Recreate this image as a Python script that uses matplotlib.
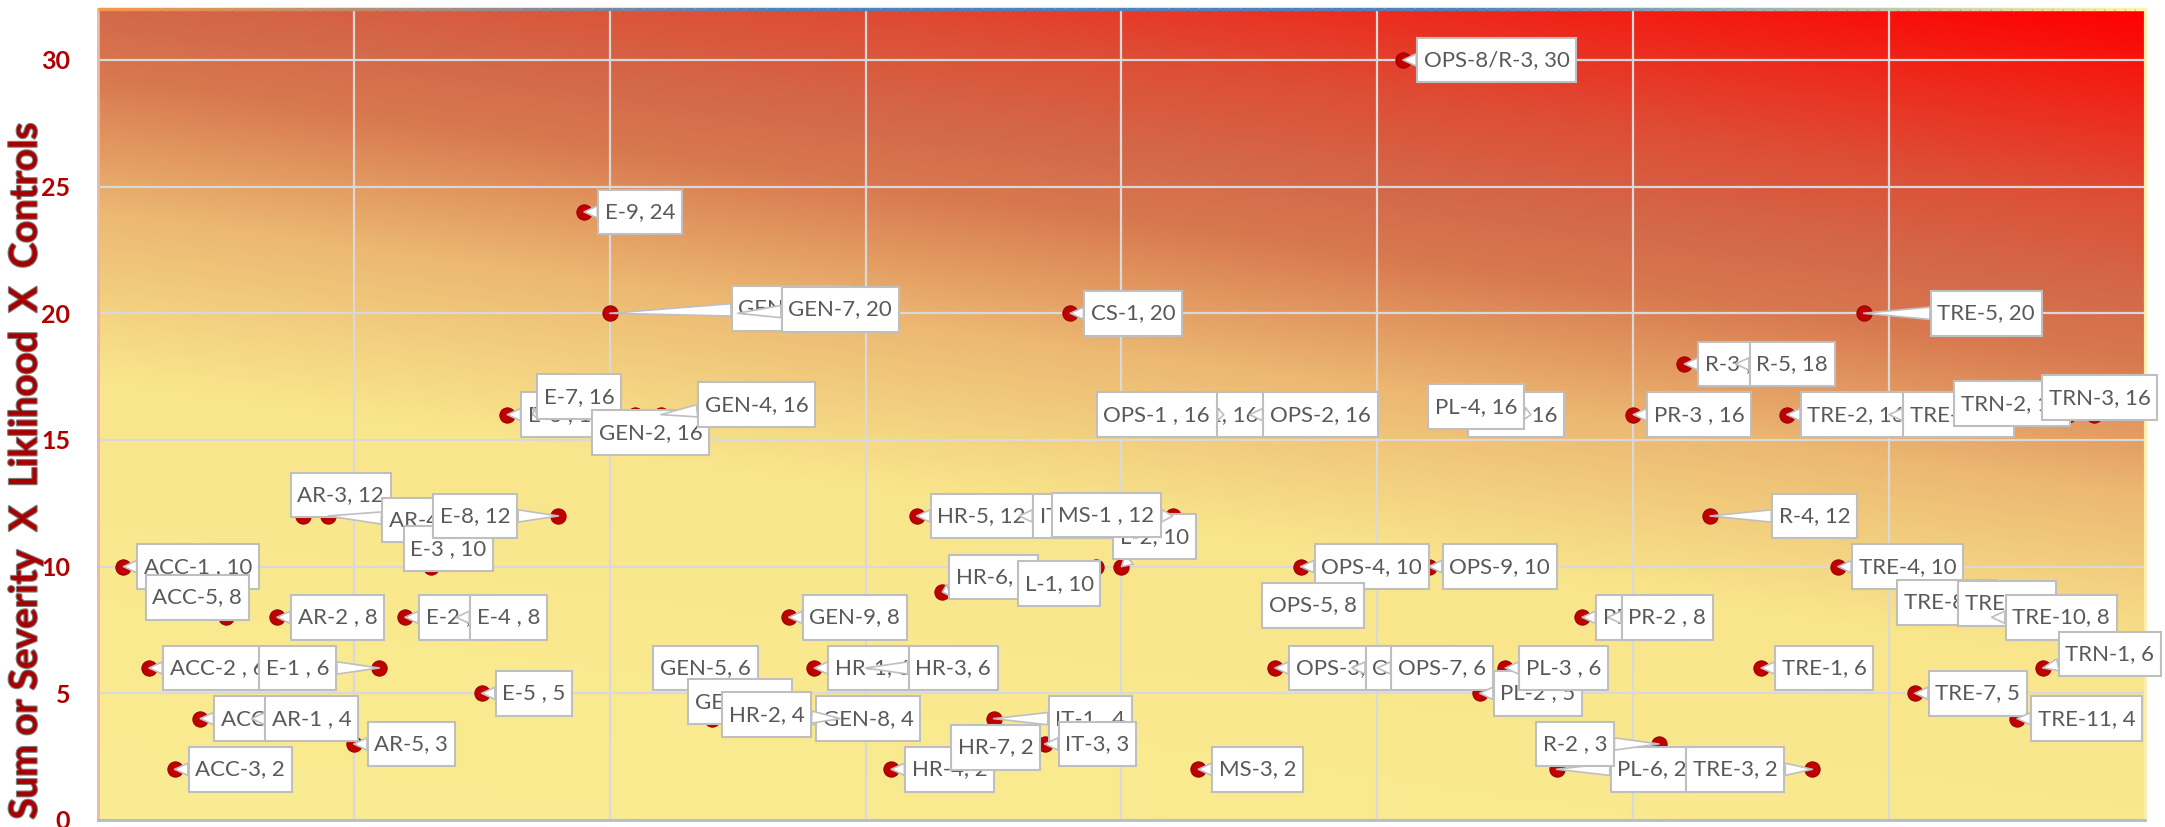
import numpy as np
import matplotlib.pyplot as plt
import matplotlib.patheffects as pe
from matplotlib.colors import LinearSegmentedColormap
from matplotlib.collections import LineCollection
from matplotlib.path import Path

plt.rcParams['font.family'] = ['Lato', 'DejaVu Sans']

# risk items in register order (x = position in the register)
names = ['ACC-1 ', 'ACC-2 ', 'ACC-3', 'ACC-4 ', 'ACC-5',
         'AR-1 ', 'AR-2 ', 'AR-3', 'AR-4', 'AR-5',
         'E-1 ', 'E-2 ', 'E-3 ', 'E-4 ', 'E-5 ', 'E-6 ', 'E-7', 'E-8', 'E-9',
         'GEN-1', 'GEN-2', 'GEN-4', 'GEN-5', 'GEN-6', 'GEN-7', 'GEN-8', 'GEN-9',
         'HR-1', 'HR-2', 'HR-3', 'HR-4', 'HR-5', 'HR-6', 'HR-7',
         'IT-1 ', 'IT-2', 'IT-3', 'CS-1', 'L-1', 'L-2',
         'MS-2', 'MS-1 ', 'MS-3',
         'OPS-1 ', 'OPS-2', 'OPS-3', 'OPS-4', 'OPS-5', 'OPS-6', 'OPS-7', 'OPS-8/R-3', 'OPS-9',
         'PL-1', 'PL-2 ', 'PL-3 ', 'PL-4', 'PL-6',
         'PR-1', 'PR-2 ', 'PR-3 ',
         'R-2 ', 'R-3 ', 'R-4', 'R-5',
         'TRE-1', 'TRE-2', 'TRE-3', 'TRE-4', 'TRE-5', 'TRE-6', 'TRE-7', 'TRE-8', 'TRE-9',
         'TRE-10', 'TRE-11', 'TRN-1', 'TRN-2', 'TRN-3']
scores = [10, 6, 2, 4, 8,
          4, 8, 12, 12, 3,
          6, 8, 10, 8, 5, 16, 16, 12, 24,
          20, 16, 16, 6, 4, 20, 4, 8,
          6, 4, 6, 2, 12, 9, 2,
          4, 12, 3, 20, 10, 10,
          16, 12, 2,
          16, 16, 6, 10, 8, 6, 6, 30, 10,
          16, 5, 6, 16, 2,
          8, 8, 16,
          3, 18, 12, 18,
          6, 16, 2, 10, 20, 16, 5, 8, 8,
          8, 4, 6, 16, 16]
x = np.arange(1, len(names) + 1)

# where each callout box sits relative to its point (px: box left edge, box centre)
default_offset = (14, 0)
label_offsets = {
    'ACC-5': (-80, 20), 'AR-3': (-12, 21), 'AR-4': (54, -4), 'E-8': (-125, 0),
    'E-3': (-27, 18), 'E-1': (-120, 0), 'E-7': (4, 18),
    'GEN-1': (122, 5), 'GEN-2': (-43, -18), 'GEN-4': (37, 10), 'GEN-5': (-33, 0),
    'GEN-6': (-24, 17), 'GEN-7': (44, 4), 'GEN-8': (53, 0),
    'HR-2': (-118, 4), 'HR-3': (43, 0), 'HR-6': (7, 15), 'HR-7': (-17, 22),
    'IT-1': (55, 0), 'L-1': (-78, -17), 'L-2': (-8, 30), 'MS-1': (-121, 1),
    'OPS-1': (-127, 0), 'OPS-5': (-64, 12), 'PL-4': (-103, 8), 'PL-6': (54, 0),
    'R-2': (-123, 0), 'R-4': (62, 0), 'TRE-3': (-126, 0), 'TRE-5': (67, 0),
    'TRE-8': (-43, 15), 'TRE-9': (-8, 14), 'TRN-1': (16, 14),
    'TRN-2': (-114, 11), 'TRN-3': (-52, 17),
}


def callout_box(x0, y0, width, height, mutation_size):
    # plain rectangle, roomier top/bottom than left/right
    px, py = 0.3 * mutation_size, 0.55 * mutation_size
    return Path([(x0 - px, y0 - py), (x0 + width + px, y0 - py),
                 (x0 + width + px, y0 + height + py), (x0 - px, y0 + height + py),
                 (x0 - px, y0 - py)], closed=True)


fig = plt.figure(figsize=(21.65, 8.27), dpi=100)
ax = fig.add_axes([0.0452, 0.0085, 0.9456, 0.9803])
ax.set_xlim(0, 80)
ax.set_ylim(0, 32)

# yellow -> orange -> red fill running towards the top right corner
u, v = np.meshgrid(np.linspace(0, 1, 800), np.linspace(0, 1, 400))
t = (v + 0.35 * u) / 1.35
heat = LinearSegmentedColormap.from_list('heat', [
    (0.0, '#FAEC92'), (0.40, '#F9E68C'), (0.556, '#ECB872'), (0.68, '#D8784F'),
    (0.74, '#D3694A'), (0.83, '#DE4D35'), (1.0, '#FF0000')])
ax.imshow(t, cmap=heat, extent=[0, 80, 0, 32], origin='lower', aspect='auto',
          interpolation='bilinear', zorder=0, vmin=0, vmax=1)

ax.set_axisbelow(True)
ax.set_xticks(np.arange(0, 81, 10))
ax.set_yticks(np.arange(0, 31, 5))
ax.set_xticklabels([])
ax.grid(True, color='#D9D9D9', lw=1.6)
ax.tick_params(length=0)
ax.tick_params(axis='y', pad=20, labelsize=18, labelcolor='#B00000')
for lbl in ax.get_yticklabels():
    lbl.set_fontweight('bold')

ax.spines['left'].set_color('#E8B8A8')
ax.spines['bottom'].set_color('#B4BCC8')
ax.spines['right'].set_color('#FFF0A8')
ax.spines['top'].set_visible(False)
for s in ('left', 'bottom', 'right'):
    ax.spines[s].set_linewidth(2)

# odd multi-coloured top border
tx = np.linspace(0, 80, 200)
segs = np.stack([np.column_stack([tx[:-1], np.full(199, 32)]),
                 np.column_stack([tx[1:], np.full(199, 32)])], axis=1)
border = LinearSegmentedColormap.from_list('border', ['#F79646', '#4F81BD', '#4F81BD', '#FFF2A0'])
ax.add_collection(LineCollection(segs, colors=border(np.linspace(0, 1, 199)), lw=2.5,
                                 clip_on=False, zorder=5))

ax.scatter(x, scores, s=120, color='#C00000', edgecolor='#9A0000', lw=0.8, zorder=2)

fs = 16
pad_px = 0.3 * fs * 100 / 72
for xi, yi, n in zip(x, scores, names):
    dx, dy = label_offsets.get(n.strip(), default_offset)
    ax.annotate(f'{n}, {yi}', xy=(xi, yi), xytext=(dx + pad_px, dy),
                textcoords='offset pixels', ha='left', va='center',
                fontsize=fs, color='#595959', zorder=4,
                bbox=dict(boxstyle=callout_box, fc='white', ec='#BFBFBF', lw=1.5),
                arrowprops=dict(arrowstyle='wedge,tail_width=0.55,shrink_factor=0.5',
                                fc='white', ec='#BFBFBF', lw=1.2, shrinkA=0, shrinkB=0))

ax.set_ylabel('Sum or Severity  X  Liklihood  X  Controls', fontsize=27.5,
              fontweight='bold', color='#A80000',
              path_effects=[pe.withStroke(linewidth=1.6, foreground='#808080')])
ax.yaxis.set_label_coords(-0.027, 0.431)

fig.savefig('out.png', dpi=100)
